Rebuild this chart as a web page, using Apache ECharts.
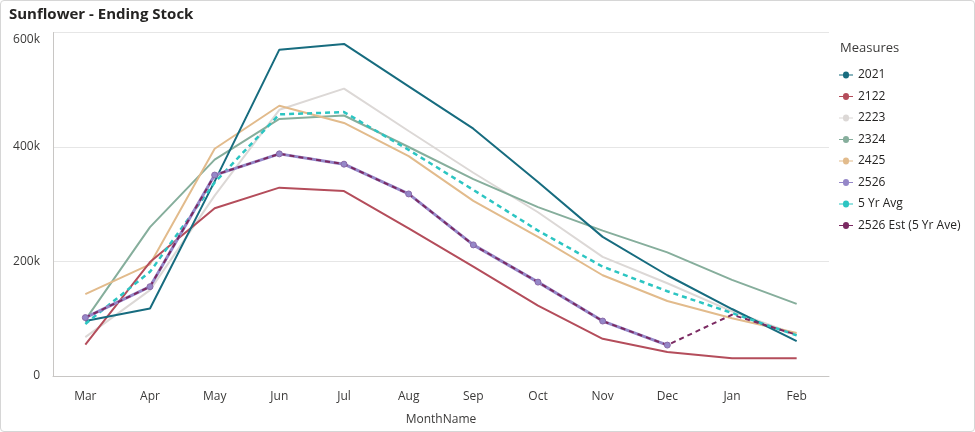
<!DOCTYPE html>
<html><head><meta charset="utf-8">
<script src="https://cdn.jsdelivr.net/npm/echarts@6/dist/echarts.min.js"></script>
<style>html,body{margin:0;padding:0;background:#fff}#c{width:975px;height:432px;box-sizing:border-box;border:1px solid #d6d6d6;border-radius:4px}</style>
</head><body><div id="c"></div>
<script>
const months = ['Mar','Apr','May','Jun','Jul','Aug','Sep','Oct','Nov','Dec','Jan','Feb'];
const s2021 = [96,118,340,570,580,506,432,339,243,176,117,61];
const s2122 = [55,199,293,329,323,258,191,123,65,42,31,31];
const s2223 = [68,150,315,465,502,428,355,286,208,162,113,72];
const s2324 = [98,260,378,449,455,400,344,295,254,216,168,126];
const s2425 = [143,195,397,472,442,384,306,243,176,131,101,75];
const s2526 = [102,156,351,388,370,318,229,164,96,54,null,null];
const s5yr  = [91,182,338,457,461,395,325,254,191,148,110,71];
const sEst  = [102,156,351,388,370,318,229,164,96,54,107,72];
const yTicks = [0,200,400,600];

const K = v => v == null ? null : v * 1000;
const colors = {
  '2021':'#176c7f','2122':'#b44d5b','2223':'#dcd8d6','2324':'#86ae9c',
  '2425':'#e2bb8c','2526':'#9587c8','5 Yr Avg':'#2cc5c2','2526 Est (5 Yr Ave)':'#7b2a62'
};
function line(name, arr, extra) {
  return Object.assign({
    name, type:'line', data: arr.map(K), symbol:'none', showSymbol:false,
    lineStyle:{width:2, color:colors[name]}, itemStyle:{color:colors[name]},
    emphasis:{disabled:true}, animation:false
  }, extra || {});
}
const estData = sEst.map((v,i) => ({
  value: K(v),
  symbol: s2526[i] != null ? 'circle' : 'none',
  symbolSize: 6,
  itemStyle: {color:'#9587c8', borderColor:'#8a6aa8', borderWidth:1}
}));

const chart = echarts.init(document.getElementById('c'));
chart.setOption({
  animation:false,
  textStyle:{fontFamily:'"Open Sans", "Noto Sans", sans-serif'},
  title:[
    {text:'Sunflower - Ending Stock', left:3, top:1,
     textStyle:{fontSize:15, fontWeight:'bold', color:'#252423', fontFamily:'"Open Sans", sans-serif'}},
    {text:'Measures', left:834, top:36,
     textStyle:{fontSize:13, fontWeight:'normal', color:'#3b3a39'}}
  ],
  legend:{
    orient:'vertical', left:833, top:63, itemWidth:14, itemHeight:8, itemGap:9.5,
    textStyle:{fontSize:12, color:'#252423'},
    icon:'path://M0,4 L4,4 A3,3 0 1 1 10,4 L14,4 L14,5 L10,5 A3,3 0 1 1 4,5 L0,5 Z',
    data:[
      '2021','2122','2223','2324','2425','2526','5 Yr Avg',
      {name:'2526 Est (5 Yr Ave)', itemStyle:{color:colors['2526 Est (5 Yr Ave)']}}
    ]
  },
  grid:{left:52, right:145, top:31.5, bottom:52.5},
  xAxis:{
    type:'category', data:months, boundaryGap:true, name:'MonthName',
    nameLocation:'middle', nameGap:38,
    nameTextStyle:{fontSize:12, color:'#3b3a39'},
    axisLine:{lineStyle:{color:'#c8c6c4'}}, axisTick:{show:false},
    axisLabel:{fontSize:12, color:'#3b3a39', margin:15}
  },
  yAxis:{
    type:'value', min:0, max:600000, interval:200000,
    axisLine:{show:true, lineStyle:{color:'#c8c6c4'}}, axisTick:{show:false},
    splitLine:{lineStyle:{color:'#e6e6e6'}},
    axisLabel:{fontSize:12, color:'#3b3a39', margin:13,
      formatter: v => {
        const k = v/1000;
        if (!yTicks.includes(k)) return '';
        if (k === 600) return '{top|600k}';
        return k === 0 ? '0' : k + 'k';
      },
      rich:{top:{fontSize:12, color:'#3b3a39', padding:[14,0,0,0]}}
    }
  },
  series:[
    line('2223', s2223),
    line('2324', s2324),
    line('2425', s2425),
    line('2122', s2122),
    line('2021', s2021),
    line('5 Yr Avg', s5yr, {lineStyle:{width:2.5, color:colors['5 Yr Avg'], type:[5,4]}}),
    line('2526', s2526, {lineStyle:{width:3, color:colors['2526']}}),
    line('2526 Est (5 Yr Ave)', sEst, {
      data: estData, showSymbol:true,
      lineStyle:{width:2, color:colors['2526 Est (5 Yr Ave)'], type:[5,4]},
      itemStyle:{color:colors['2526 Est (5 Yr Ave)']}
    })
  ]
});
</script></body></html>
